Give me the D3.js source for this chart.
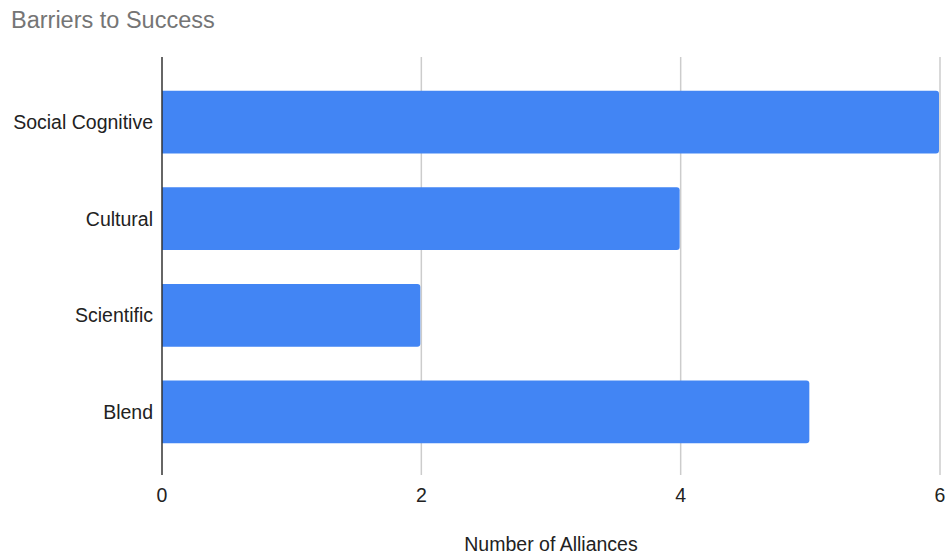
<!DOCTYPE html>
<html>
<head>
<meta charset="utf-8">
<title>Barriers to Success</title>
<script src="https://cdn.jsdelivr.net/npm/d3@7"></script>
<style>
  body { margin: 0; background: #fff; }
  text { font-family: "Liberation Sans", Arial, sans-serif; }
</style>
</head>
<body>
<script>
var categories = ["Social Cognitive", "Cultural", "Scientific", "Blend"];
var values = [6, 4, 2, 5];
var xTicks = [0, 2, 4, 6];

var svgWidth = 948, svgHeight = 554;
var margin = {top: 57, right: 8, bottom: 79, left: 162};
var width = svgWidth - margin.left - margin.right;
var height = svgHeight - margin.top - margin.bottom;

var svg = d3.select("body").append("svg")
  .attr("width", svgWidth)
  .attr("height", svgHeight);

svg.append("text")
  .attr("x", 11)
  .attr("y", 28)
  .attr("fill", "#757575")
  .style("font-size", "23.5px")
  .text("Barriers to Success");

var g = svg.append("g")
  .attr("transform", "translate(" + margin.left + "," + margin.top + ")");

var x = d3.scaleLinear().domain([0, 6]).range([0, 778]);
var y = d3.scaleBand().domain(categories).range([0, 420])
  .paddingInner(0.35).paddingOuter(0.35);

// gridlines
g.selectAll(".grid")
  .data(xTicks.slice(1))
  .enter().append("line")
  .attr("x1", function(d) { return x(d); })
  .attr("x2", function(d) { return x(d); })
  .attr("y1", 0)
  .attr("y2", 418)
  .attr("stroke", "#cccccc")
  .attr("stroke-width", 1.5);

// bars with rounded right end
var r = 3;
g.selectAll(".bar")
  .data(values)
  .enter().append("path")
  .attr("fill", "#4285f4")
  .attr("d", function(d, i) {
    var y0 = y(categories[i]), h = y.bandwidth(), w = x(d) - 1;
    return "M0," + y0 + "H" + (w - r) + "Q" + w + "," + y0 + " " + w + "," + (y0 + r) +
      "V" + (y0 + h - r) + "Q" + w + "," + (y0 + h) + " " + (w - r) + "," + (y0 + h) +
      "H0Z";
  });

// zero axis line
g.append("line")
  .attr("x1", 0).attr("x2", 0)
  .attr("y1", 0).attr("y2", 418)
  .attr("stroke", "#333333")
  .attr("stroke-width", 1.5);

// category labels
g.selectAll(".cat")
  .data(categories)
  .enter().append("text")
  .attr("x", -9)
  .attr("y", function(d) { return y(d) + y.bandwidth() / 2; })
  .attr("dy", "0.35em")
  .attr("text-anchor", "end")
  .attr("fill", "#222222")
  .style("font-size", "19.5px")
  .text(function(d) { return d; });

// x tick labels
g.selectAll(".tick")
  .data(xTicks)
  .enter().append("text")
  .attr("x", function(d) { return x(d); })
  .attr("y", 445)
  .attr("text-anchor", "middle")
  .attr("fill", "#222222")
  .style("font-size", "19.5px")
  .text(function(d) { return d; });

// axis title
svg.append("text")
  .attr("x", margin.left + 778 / 2)
  .attr("y", 551)
  .attr("text-anchor", "middle")
  .attr("fill", "#222222")
  .style("font-size", "19.5px")
  .text("Number of Alliances");
</script>
</body>
</html>
